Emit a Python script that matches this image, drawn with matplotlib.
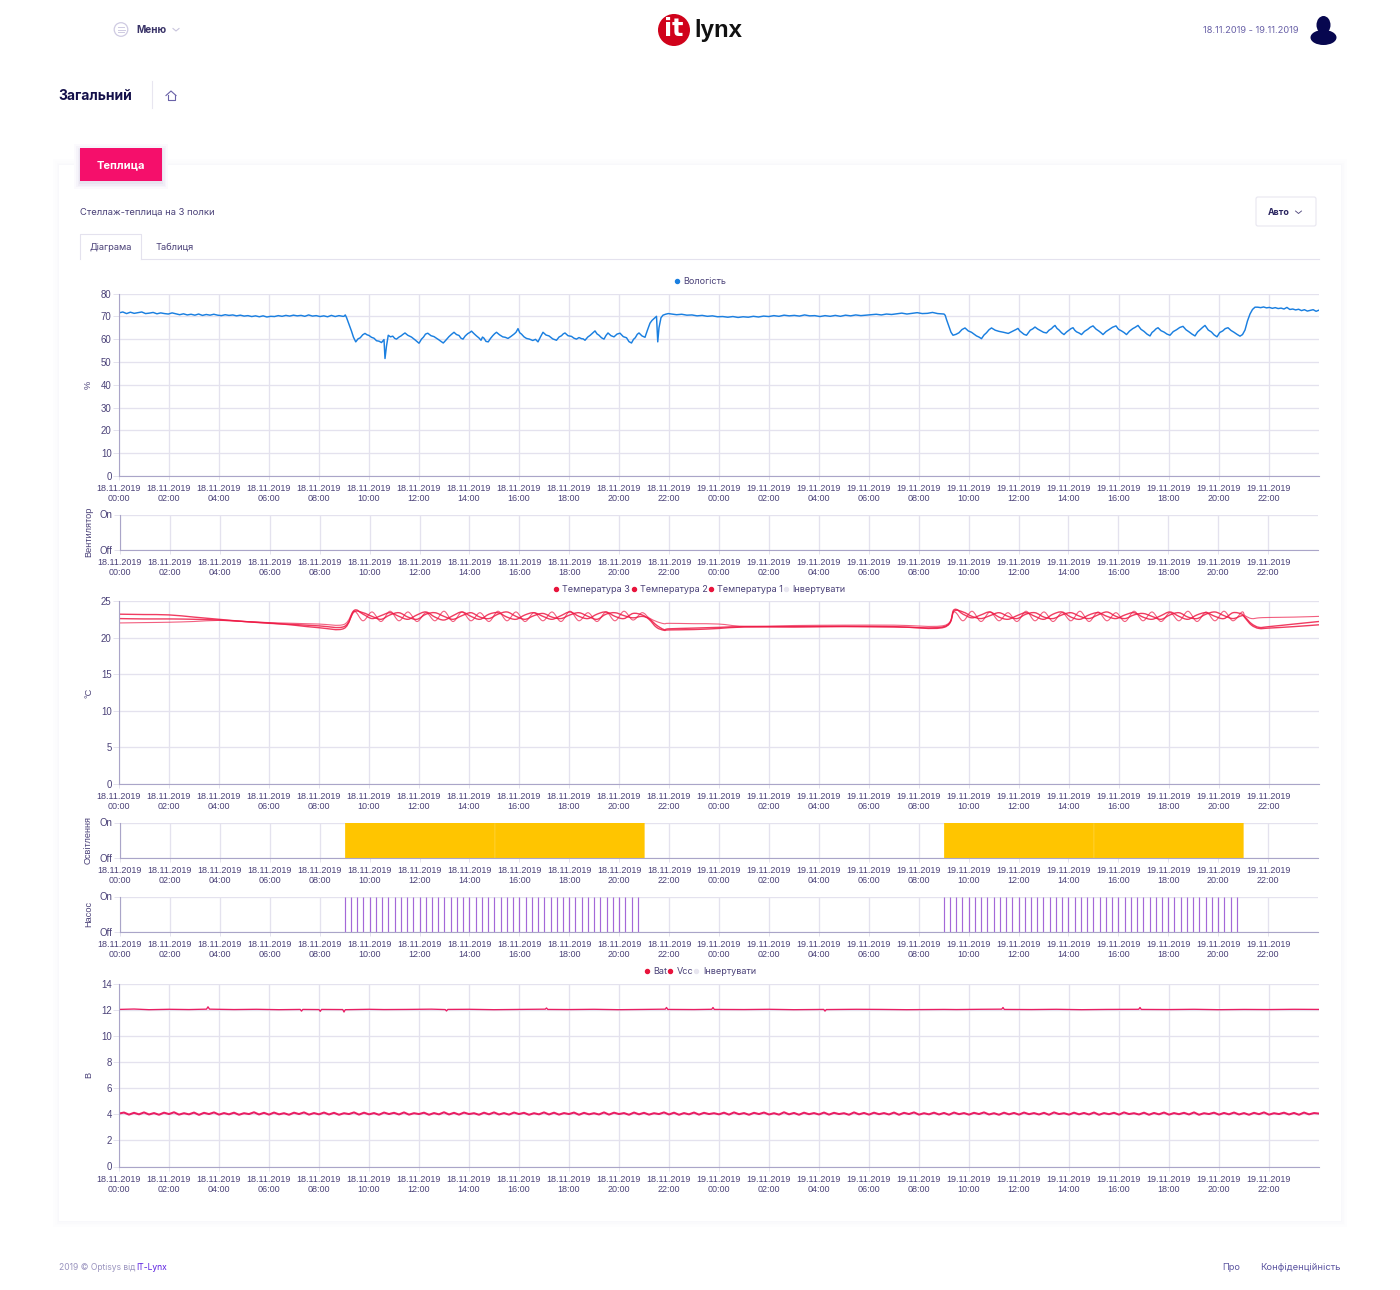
import numpy as np
import matplotlib
matplotlib.use('Agg')
import matplotlib.pyplot as plt
from matplotlib.lines import Line2D
from matplotlib.path import Path
from matplotlib.patches import Rectangle, Ellipse, Circle, FancyBboxPatch, PathPatch

W, H = 1400, 1290
UI_FONT = 'Inter'
TICK_FONT = 'Liberation Sans'
INK = '#4a4178'
GRID = '#e4e2ee'
AXIS = '#aaa5c8'

# tick labels, every 2 hours over the two days
tick_hours = [0, 2, 4, 6, 8, 10, 12, 14, 16, 18, 20, 22, 24, 26, 28, 30, 32, 34, 36, 38, 40, 42, 44, 46]
tick_labels = ['18.11.2019\n00:00', '18.11.2019\n02:00', '18.11.2019\n04:00', '18.11.2019\n06:00',
               '18.11.2019\n08:00', '18.11.2019\n10:00', '18.11.2019\n12:00', '18.11.2019\n14:00',
               '18.11.2019\n16:00', '18.11.2019\n18:00', '18.11.2019\n20:00', '18.11.2019\n22:00',
               '19.11.2019\n00:00', '19.11.2019\n02:00', '19.11.2019\n04:00', '19.11.2019\n06:00',
               '19.11.2019\n08:00', '19.11.2019\n10:00', '19.11.2019\n12:00', '19.11.2019\n14:00',
               '19.11.2019\n16:00', '19.11.2019\n18:00', '19.11.2019\n20:00', '19.11.2019\n22:00']

# humidity, night 1 (00:00 - 09:00)
hum_night1 = [71.5, 71.9, 71.2, 71.8, 71.3, 71.6, 71.9, 71.2, 71.4, 71.7, 71.1, 71.5, 71.2, 71.0, 71.5, 71.1,
              70.7, 71.1, 70.6, 70.9, 70.5, 71.0, 70.4, 70.8, 70.5, 70.9, 70.5, 70.3, 70.7, 70.4, 70.6, 70.2,
              70.5, 70.1, 70.3, 69.9, 70.2, 69.8, 70.2, 69.7, 70.0, 69.9, 70.3, 70.0, 70.4, 70.1, 70.5, 70.2,
              70.4, 70.0, 70.6, 70.1, 70.3, 69.9, 70.2, 69.8, 70.4, 69.9, 70.3, 70.0]
# humidity, day 1 (irregular knots)
hum_day1_t = [9.0, 9.05, 9.1, 9.2, 9.3, 9.38, 9.47, 9.56, 9.65, 9.75, 9.84, 9.92, 10.0, 10.1, 10.2, 10.3, 10.4, 10.5, 10.6, 10.64, 10.7, 10.77,
              10.86, 10.95, 11.03, 11.1, 11.2, 11.28, 11.36, 11.44, 11.55, 11.7, 11.85, 12.0, 12.1, 12.18, 12.26, 12.35, 12.48, 12.6, 12.78, 12.97, 13.08, 13.2, 13.3, 13.4,
              13.5, 13.6, 13.68, 13.76, 13.85, 13.95, 14.03, 14.1, 14.2, 14.3, 14.4, 14.48, 14.54, 14.6, 14.68, 14.77, 14.86, 14.95, 15.03, 15.1, 15.22, 15.35, 15.45, 15.56,
              15.68, 15.8, 15.88, 15.96, 16.03, 16.1, 16.2, 16.3, 16.42, 16.55, 16.66, 16.76, 16.86, 16.96, 17.08, 17.2, 17.35, 17.5, 17.6, 17.7, 17.77, 17.84, 17.96, 18.1,
              18.2, 18.3, 18.4, 18.5, 18.57, 18.64, 18.75, 18.85, 18.95, 19.04, 19.12, 19.2, 19.3, 19.4, 19.48, 19.56, 19.68, 19.8, 19.92, 20.04, 20.17, 20.3, 20.4, 20.5,
              20.58, 20.65, 20.73, 20.8, 20.92, 21.04, 21.14, 21.24, 21.32, 21.4, 21.5, 21.55, 21.6, 21.68, 21.76, 21.86, 21.97]
hum_day1_v = [70.0, 70.6, 69.5, 66.5, 63.5, 60.8, 58.8, 60.1, 60.6, 61.9, 62.5, 61.9, 61.6, 60.8, 60.4, 59.3, 59.1, 58.5, 59.8, 51.5, 57.0, 61.7,
              61.0, 61.3, 60.3, 60.0, 60.9, 61.4, 62.1, 62.7, 61.7, 60.9, 59.6, 58.2, 60.0, 60.9, 62.2, 62.6, 61.5, 61.1, 59.8, 58.3, 59.6, 61.1, 62.1, 63.0,
              62.0, 61.6, 60.4, 60.0, 61.4, 62.4, 62.9, 63.5, 62.4, 61.4, 60.5, 59.5, 60.9, 60.4, 59.0, 58.8, 60.3, 61.5, 62.4, 63.0, 61.9, 61.0, 60.8, 60.3,
              61.2, 62.2, 63.0, 64.6, 62.8, 62.2, 61.0, 60.3, 60.0, 59.4, 59.9, 58.8, 61.0, 63.0, 61.8, 61.4, 60.1, 59.5, 60.9, 61.5, 62.3, 62.7, 61.5, 61.2,
              60.4, 60.0, 60.7, 60.2, 60.1, 59.5, 60.9, 61.7, 62.7, 63.6, 62.3, 61.7, 60.6, 60.0, 61.6, 62.7, 61.5, 61.0, 62.2, 62.6, 61.1, 60.6, 58.9, 58.3,
              59.9, 60.6, 62.1, 62.7, 61.4, 60.8, 64.0, 67.0, 68.2, 69.0, 70.0, 58.8, 65.0, 69.4, 70.5, 70.9, 71.2]
# humidity, night 2 (22:00 - 09:00)
hum_night2 = [71.0, 70.7, 70.9, 70.5, 70.6, 70.2, 70.4, 70.0, 70.2, 69.8, 69.9, 69.6, 69.9, 69.5, 69.8, 69.6,
              70.0, 69.7, 70.1, 69.9, 70.3, 70.0, 70.5, 70.2, 70.4, 70.1, 70.6, 70.2, 70.3, 69.9, 70.3, 70.0,
              70.4, 70.0, 70.5, 70.2, 70.6, 70.3, 70.5, 70.7, 70.9, 70.6, 71.0, 70.8, 71.1, 71.4, 71.0, 71.3,
              71.6, 71.2, 71.3, 71.7, 71.2, 71.0]
# humidity, day 2 (irregular knots)
hum_day2_t = [33.0, 33.05, 33.1, 33.2, 33.28, 33.36, 33.48, 33.6, 33.72, 33.84, 33.97, 34.1, 34.2, 34.3, 34.4, 34.5, 34.6, 34.7, 34.8, 34.9, 35.05, 35.2, 35.38, 35.57,
              35.7, 35.8, 35.88, 35.96, 36.03, 36.1, 36.2, 36.3, 36.38, 36.45, 36.55, 36.64, 36.75, 36.85, 36.98, 37.1, 37.2, 37.3, 37.37, 37.44, 37.52, 37.6, 37.7, 37.8,
              37.9, 38.0, 38.08, 38.16, 38.23, 38.3, 38.4, 38.5, 38.62, 38.75, 38.85, 38.96, 39.08, 39.2, 39.28, 39.36, 39.48, 39.6, 39.74, 39.88, 39.98, 40.1, 40.2, 40.3,
              40.42, 40.55, 40.65, 40.76, 40.88, 41.0, 41.12, 41.24, 41.32, 41.4, 41.48, 41.56, 41.68, 41.8, 41.92, 42.04, 42.17, 42.3, 42.43, 42.56, 42.68, 42.8, 42.92, 43.04,
              43.14, 43.25, 43.35, 43.44, 43.57, 43.7, 43.8, 43.92, 44.03, 44.15, 44.25, 44.36, 44.48, 44.6, 44.72, 44.84, 44.94, 45.04, 45.14, 45.24, 45.34, 45.44]
hum_day2_v = [71.0, 70.4, 68.6, 65.5, 63.0, 61.7, 62.1, 62.8, 64.2, 64.9, 63.6, 63.0, 62.2, 61.4, 60.9, 60.2, 61.8, 62.8, 64.1, 64.9, 63.9, 63.4, 63.0, 62.5,
              63.2, 63.7, 64.2, 64.7, 63.6, 63.0, 62.1, 61.7, 62.9, 63.9, 64.5, 65.3, 64.4, 63.8, 63.0, 62.7, 63.9, 64.6, 65.4, 66.0, 64.7, 64.0, 62.8, 62.0,
              63.1, 63.9, 64.6, 65.0, 63.9, 63.2, 62.7, 62.0, 63.4, 64.3, 65.2, 65.8, 64.4, 63.5, 62.8, 62.0, 63.3, 64.2, 65.2, 65.8, 64.3, 63.6, 62.9, 62.0,
              63.5, 64.6, 65.2, 66.0, 64.3, 63.4, 62.2, 61.4, 62.9, 63.6, 64.5, 65.0, 63.7, 63.1, 62.2, 61.7, 63.3, 64.1, 65.1, 65.6, 64.1, 63.2, 62.2, 61.4,
              63.1, 64.2, 65.2, 66.0, 64.0, 63.1, 61.9, 61.0, 62.9, 63.6, 64.6, 65.0, 63.8, 63.0, 62.1, 61.3, 62.0, 64.0, 68.0, 71.0, 73.0, 74.0]
# humidity, evening 2 (45.5 - 48)
hum_end = [74.0, 73.8, 74.1, 73.7, 73.9, 73.5, 73.8, 73.4, 73.6, 73.2, 73.9, 73.0, 73.2, 72.8, 73.1, 72.5, 72.9, 72.3, 72.6, 72.9, 72.2, 72.7]

# temperature sample times
temp_night1_t = [0, 1, 2, 3, 4, 5, 6, 7, 8, 9]
temp_evening_t = [21.2, 21.5, 21.8, 22, 23, 24, 25, 27, 29, 31, 33]
temp_end_t = [45.04, 45.3, 45.6, 46, 47, 48]

temp1_night1 = [23.2, 23.15, 23.1, 22.8, 22.5, 22.2, 22.0, 21.7, 21.35, 21.25]
temp1_day1 = [23.7, 23.2, 22.6, 23.0, 23.4, 22.9, 22.5, 23.1, 23.5, 22.8, 22.4, 23.0, 23.5, 22.9, 22.5, 23.2, 23.4,
              22.8, 22.5, 23.1, 23.4, 22.9, 22.5, 23.0, 23.5, 22.9, 22.6, 23.2, 23.5, 22.9, 22.6, 23.3, 23.1]
temp1_evening = [22.5, 21.4, 21.0, 21.05, 21.1, 21.25, 21.45, 21.5, 21.55, 21.5, 21.4]
temp1_day2 = [23.8, 23.2, 22.7, 23.1, 23.5, 22.8, 22.5, 23.0, 23.4, 22.9, 22.5, 23.2, 23.5, 22.8, 22.5, 23.1, 23.4,
              22.9, 22.6, 23.1, 23.4, 22.8, 22.5, 23.0, 23.5, 22.9, 22.5, 23.1, 23.4, 22.9, 22.6, 23.4, 23.2]
temp1_end = [22.7, 21.7, 21.25, 21.3, 21.5, 21.75]

temp2_night1 = [22.6, 22.55, 22.55, 22.5, 22.4, 22.2, 21.95, 21.8, 21.6, 21.5]
temp2_day1 = [23.5, 23.4, 22.9, 22.5, 23.1, 23.4, 22.8, 22.5, 23.2, 23.4, 22.9, 22.5, 23.0, 23.4, 22.8, 22.6, 23.2,
              23.5, 22.9, 22.5, 23.0, 23.3, 22.8, 22.6, 23.1, 23.4, 22.9, 22.5, 23.2, 23.4, 23.0, 22.7, 22.9]
temp2_evening = [22.6, 21.7, 21.1, 21.2, 21.3, 21.4, 21.5, 21.45, 21.5, 21.45, 21.5]
temp2_day2 = [23.6, 23.5, 22.9, 22.6, 23.0, 23.4, 22.9, 22.6, 23.2, 23.4, 22.8, 22.6, 23.1, 23.4, 22.9, 22.6, 23.1,
              23.5, 22.9, 22.6, 23.1, 23.3, 22.9, 22.5, 23.1, 23.4, 22.8, 22.6, 23.2, 23.5, 23.0, 22.6, 23.0]
temp2_end = [22.8, 21.9, 21.4, 21.5, 21.85, 22.2]

temp3_night1 = [22.0, 22.05, 22.1, 22.2, 22.35, 22.2, 22.05, 21.95, 21.85, 21.8]
temp3_day1 = [23.6, 22.3, 23.5, 22.2, 23.6, 22.3, 23.5, 22.2, 23.4, 22.3, 23.6, 22.2, 23.5, 22.3, 23.4, 22.2, 23.6,
              22.3, 23.5, 22.2, 23.4, 22.3, 23.5, 22.2, 23.6, 22.3, 23.4, 22.2, 23.5, 22.3, 23.6, 22.4, 23.4]
temp3_evening = [22.7, 22.2, 21.9, 21.95, 21.9, 21.85, 21.55, 21.65, 21.7, 21.7, 21.65]
temp3_day2 = [23.5, 22.3, 23.6, 22.2, 23.5, 22.3, 23.4, 22.2, 23.6, 22.3, 23.5, 22.2, 23.4, 22.3, 23.6, 22.2, 23.5,
              22.3, 23.4, 22.2, 23.6, 22.3, 23.5, 22.2, 23.4, 22.3, 23.6, 22.2, 23.5, 22.3, 23.6, 22.3, 23.5]
temp3_end = [23.0, 22.6, 22.7, 22.75, 22.8, 22.9]

# lights: on / off hours
light_on = [9.0, 15.008, 33.0, 39.008]
light_off = [15.0, 21.0, 39.0, 45.0]

# pump switching hours
pump_day1 = [9.0, 9.25, 9.5, 9.75, 10.0, 10.25, 10.5, 10.75, 11.0, 11.25, 11.5, 11.75, 12.0, 12.25, 12.5, 12.75,
             13.0, 13.25, 13.5, 13.75, 14.0, 14.25, 14.5, 14.75, 15.0, 15.25, 15.5, 15.75, 16.0, 16.25, 16.5, 16.75,
             17.0, 17.25, 17.5, 17.75, 18.0, 18.25, 18.5, 18.75, 19.0, 19.25, 19.5, 19.75, 20.0, 20.25, 20.5, 20.75]
pump_day2 = [33.0, 33.25, 33.5, 33.75, 34.0, 34.25, 34.5, 34.75, 35.0, 35.25, 35.5, 35.75, 36.0, 36.25, 36.5, 36.75,
             37.0, 37.25, 37.5, 37.75, 38.0, 38.25, 38.5, 38.75, 39.0, 39.25, 39.5, 39.75, 40.0, 40.25, 40.5, 40.75,
             41.0, 41.25, 41.5, 41.75, 42.0, 42.25, 42.5, 42.75, 43.0, 43.25, 43.5, 43.75, 44.0, 44.25, 44.5, 44.75]

# battery and supply voltage
bat_t = [0, 0.6, 1.2, 2.0, 2.8, 3.5, 3.56, 3.62, 4.6, 5.5, 6.4, 7.25, 7.3, 7.35, 8.0, 8.05, 8.1, 8.95, 9.0, 9.05, 10.0, 10.6,
         11.5, 12.5, 13.05, 13.1, 13.15, 14.0, 15.0, 16.0, 17.05, 17.1, 17.15, 18.0, 19.0, 20.0, 21.0, 21.85, 21.9, 21.95, 23.0,
         23.71, 23.76, 23.81, 25.0, 26.0, 27.0, 28.19, 28.24, 28.29, 29.5, 30.5, 31.5, 33.0, 33.5, 34.5, 35.31, 35.36, 35.41,
         36.5, 37.5, 38.5, 39.5, 40.79, 40.84, 40.89, 42.0, 43.0, 44.0, 45.0, 46.0, 47.0, 48.0]
bat_v = [12.05, 12.08, 12.03, 12.06, 12.04, 12.07, 12.25, 12.07, 12.04, 12.06, 12.03, 12.05, 11.92, 12.05, 12.04, 11.9, 12.05, 12.04, 11.85, 12.03, 12.06, 12.04,
         12.05, 12.07, 12.04, 11.93, 12.05, 12.06, 12.03, 12.05, 12.07, 12.16, 12.05, 12.04, 12.06, 12.03, 12.05, 12.07, 12.2, 12.05, 12.04,
         12.06, 12.2, 12.05, 12.04, 12.06, 12.03, 12.05, 11.92, 12.04, 12.06, 12.05, 12.03, 12.05, 12.04, 12.06, 12.07, 12.2, 12.05,
         12.04, 12.06, 12.03, 12.05, 12.06, 12.2, 12.05, 12.04, 12.06, 12.03, 12.05, 12.04, 12.06, 12.05]
vcc_part1 = [4.06, 4.14, 3.98, 4.12, 4.0, 4.15, 3.99, 4.1, 3.97, 4.13, 4.02, 4.16, 3.98, 4.09, 4.0, 4.14, 3.96, 4.12, 4.02, 4.15,
             3.98, 4.1, 4.0, 4.13, 3.97, 4.09, 4.02, 4.16, 3.99, 4.12, 3.98, 4.14, 4.0, 4.09, 3.97, 4.13, 4.02, 4.15, 3.98, 4.1,
             4.0, 4.14, 3.99, 4.12, 3.97, 4.09, 4.02, 4.15, 3.98, 4.13, 4.0, 4.1, 3.97, 4.14, 4.02, 4.12, 3.99, 4.15, 3.98, 4.09,
             4.02, 4.13, 3.97, 4.1, 4.0, 4.16, 3.99, 4.12, 3.98, 4.14, 4.02, 4.09, 3.97, 4.13, 4.0, 4.15, 3.99, 4.1, 3.98, 4.14,
             4.02, 4.12, 3.97, 4.09, 4.0, 4.15, 3.99, 4.13, 3.98, 4.1, 4.02, 4.14, 3.97, 4.12, 4.0, 4.09, 3.99, 4.15, 3.98, 4.13,
             4.02, 4.1, 3.97, 4.14, 4.0, 4.12, 3.98, 4.09, 4.02, 4.15, 3.99, 4.13, 3.97, 4.1, 4.0, 4.14, 3.98, 4.12, 4.02, 4.09]
vcc_part2 = [4.0, 4.13, 3.98, 4.15, 4.01, 4.1, 3.97, 4.12, 4.02, 4.14, 3.99, 4.09, 3.98, 4.16, 4.0, 4.11, 3.97, 4.13, 4.01, 4.1,
             3.99, 4.14, 3.98, 4.12, 4.02, 4.09, 3.97, 4.15, 4.0, 4.11, 3.98, 4.13, 4.01, 4.1, 3.99, 4.14, 3.97, 4.12, 4.02, 4.15,
             3.98, 4.09, 4.0, 4.13, 3.99, 4.11, 3.97, 4.14, 4.01, 4.1, 3.98, 4.12, 4.02, 4.15, 3.99, 4.09, 3.97, 4.13, 4.0, 4.11,
             3.98, 4.14, 4.01, 4.1, 3.99, 4.12, 3.97, 4.15, 4.02, 4.09, 3.98, 4.13, 4.0, 4.11, 3.99, 4.14, 3.97, 4.1, 4.01, 4.12,
             3.98, 4.15, 4.02, 4.09, 3.99, 4.13, 3.97, 4.11, 4.0, 4.14, 3.98, 4.1, 4.01, 4.12, 3.99, 4.15, 3.97, 4.09, 4.02, 4.13,
             3.98, 4.11, 4.0, 4.14, 3.99, 4.1, 3.97, 4.12, 4.01, 4.15, 3.98, 4.09, 4.02, 4.13, 3.99, 4.11, 3.97, 4.14, 4.0, 4.1, 4.06]

hum_t = np.concatenate([np.linspace(0, 8.95, len(hum_night1)), hum_day1_t, np.linspace(22.1, 32.95, len(hum_night2)),
                        hum_day2_t, np.linspace(45.55, 48, len(hum_end))])
hum_v = hum_night1 + hum_day1_v + hum_night2 + hum_day2_v + hum_end

temp_t = np.concatenate([temp_night1_t, np.linspace(9.4, 20.92, len(temp1_day1)), temp_evening_t,
                         np.linspace(33.4, 44.92, len(temp1_day2)), temp_end_t])
temp1 = temp1_night1 + temp1_day1 + temp1_evening + temp1_day2 + temp1_end
temp2 = temp2_night1 + temp2_day1 + temp2_evening + temp2_day2 + temp2_end
temp3 = temp3_night1 + temp3_day1 + temp3_evening + temp3_day2 + temp3_end

vcc_v = vcc_part1 + vcc_part2
vcc_t = np.linspace(0, 48, len(vcc_v))


def px_axes(left, top, right, bottom):
    return fig.add_axes([left / W, 1 - bottom / H, (right - left) / W, (bottom - top) / H])


def style_axes(ax, ylabel, ymax, yticks, ylabels=None, label_x=-26):
    ax.set_xlim(0, 48)
    ax.set_ylim(0, ymax)
    ax.patch.set_alpha(0)
    ax.set_xticks(tick_hours)
    ax.set_xticklabels(tick_labels, fontsize=6.5, fontfamily=TICK_FONT, color=INK, linespacing=1.15)
    ax.set_yticks(yticks)
    if ylabels:
        ax.set_yticklabels(ylabels)
    for lab in ax.get_yticklabels():
        lab.set_fontsize(6.9)
        lab.set_fontfamily(TICK_FONT)
        lab.set_color(INK)
    ax.tick_params(axis='x', length=3, width=0.7, color=GRID, pad=2.8)
    ax.tick_params(axis='y', length=4, width=0.7, color=GRID, pad=1.3)
    ax.grid(True, color=GRID, linewidth=0.95)
    ax.set_axisbelow(True)
    for side in ['top', 'right']:
        ax.spines[side].set_visible(False)
    ax.spines['left'].set_color(AXIS)
    ax.spines['bottom'].set_color(AXIS)
    ax.spines['left'].set_linewidth(0.8)
    ax.spines['bottom'].set_linewidth(0.8)
    ax.set_ylabel(ylabel, fontsize=6.6, fontfamily=TICK_FONT, color=INK)
    ax.yaxis.set_label_coords(label_x / ax.get_position().width / W, 0.5)


def legend_row(ax, names, colors, x_center, y_px):
    handles = [Line2D([], [], linestyle='', marker='o', markersize=2.9, color=c, label=n) for n, c in zip(names, colors)]
    ax.legend(handles=handles, ncol=len(names), loc='center', bbox_to_anchor=(x_center / W, 1 - y_px / H),
              bbox_transform=fig.transFigure, frameon=False, handlelength=0.6, handletextpad=0.4, columnspacing=0.05,
              prop={'family': UI_FONT, 'size': 6.5}, labelcolor=INK, borderpad=0, borderaxespad=0)


def smooth_line(ax, xs, ys, color, lw, alpha, k=0.17):
    # draw the line through the samples with bezier corners, like the web chart does
    pts = np.column_stack([xs, ys])
    verts = [pts[0]]
    codes = [Path.MOVETO]
    for i in range(len(pts) - 1):
        before = pts[max(i - 1, 0)]
        after = pts[min(i + 2, len(pts) - 1)]
        verts += [pts[i] + (pts[i + 1] - before) * k, pts[i + 1] - (after - pts[i]) * k, pts[i + 1]]
        codes += [Path.CURVE4, Path.CURVE4, Path.CURVE4]
    ax.add_patch(PathPatch(Path(verts, codes), fc='none', ec=color, lw=lw, alpha=alpha))


fig = plt.figure(figsize=(W / 100, H / 100), dpi=100, facecolor='white')

# page furniture in pixel coordinates
page = fig.add_axes([0, 0, 1, 1])
page.set_xlim(0, W)
page.set_ylim(H, 0)
page.axis('off')

for grow, shade in zip([6, 4, 2.5, 1], ['#fdfdfe', '#fcfcfd', '#fafafc', '#f8f8fb']):
    page.add_patch(Rectangle((59 - grow, 165 - grow), 1282 + 2 * grow, 1056 + 2 * grow, fc=shade, ec='none'))
page.add_patch(Rectangle((59, 165), 1282, 1056, fc='white', ec='none'))

for grow, shade in zip([6, 4, 2.5, 1], ['#fbfafd', '#f6f4fa', '#f0edf6', '#e8e4f0']):
    page.add_patch(Rectangle((80 - grow, 148 - grow + 2), 82 + 2 * grow, 33 + 2 * grow, fc=shade, ec='none'))
page.add_patch(Rectangle((80, 148), 82, 33, fc='#f50f6b', ec='none'))
page.text(121, 165, 'Теплица', fontsize=8, fontweight='bold', color='white', ha='center', va='center', fontfamily=UI_FONT)

page.text(80, 212, 'Стеллаж-теплица на 3 полки', fontsize=6.8, color=INK, va='center', fontfamily=UI_FONT)
page.plot([80, 80, 141, 141], [259, 234, 234, 259], color='#e4e2ee', lw=0.8)
page.plot([141, 1319], [259, 259], color='#e4e2ee', lw=0.8)
page.text(110.5, 247, 'Діаграма', fontsize=6.7, color=INK, ha='center', va='center', fontfamily=UI_FONT)
page.text(175, 247, 'Таблиця', fontsize=6.7, color=INK, ha='center', va='center', fontfamily=UI_FONT)

page.add_patch(FancyBboxPatch((1256, 197), 60, 29, boxstyle='round,pad=0,rounding_size=2', fc='white', ec='#e8e6f0', lw=0.8))
page.text(1279, 212.5, 'Авто', fontsize=6.4, fontweight='bold', color='#2a2560', ha='center', va='center', fontfamily=UI_FONT)
page.plot([1295.5, 1298.5, 1301.5], [211, 213.5, 211], color='#4a4178', lw=0.6)

# top bar
page.add_patch(Circle((121, 29.5), 6.8, fc='none', ec='#cfcbe2', lw=0.9))
for yy, half in [(27, 3), (29.5, 3.5), (32, 3)]:
    page.plot([121 - half, 121 + half], [yy, yy], color='#cfcbe2', lw=0.7)
page.text(136, 30, 'Меню', fontsize=7.2, fontweight='bold', color='#3a3468', va='center', fontfamily=UI_FONT)
page.plot([173, 176, 179], [28.5, 31, 28.5], color='#c8c4dc', lw=0.8)

page.add_patch(Ellipse((674, 30), 32, 32, fc='#d0021b', ec='none'))
page.text(674, 29, 'it', fontsize=17, fontweight='bold', color='white', ha='center', va='center', fontfamily='DejaVu Sans')
page.text(718, 30.5, 'lynx', fontsize=17.3, fontweight='bold', color='#111111', ha='center', va='center', fontfamily='Liberation Sans')

page.text(1251, 30.5, '18.11.2019 - 19.11.2019', fontsize=6.7, color='#6a62a8', ha='center', va='center', fontfamily=UI_FONT)
page.add_patch(Ellipse((1323.5, 25), 14, 18, fc='#07074f', ec='none'))
page.add_patch(Ellipse((1323.5, 37.5), 26, 15, fc='#07074f', ec='none'))

page.text(58.5, 95.5, 'Загальний', fontsize=10, fontweight='bold', color='#14104a', va='center', fontfamily=UI_FONT)
page.plot([151.5, 151.5], [81, 108], color='#e8e6f0', lw=0.8)
page.plot([166, 171, 176], [95.5, 91, 95.5], color='#6a62a8', lw=0.8)
page.plot([167.5, 167.5, 174.5, 174.5], [95, 100, 100, 95], color='#6a62a8', lw=0.8)

# footer
page.text(59, 1268, '2019 © Optisys від', fontsize=6.1, color='#9a94bf', va='center', fontfamily=UI_FONT)
page.text(136, 1268, 'IT-Lynx', fontsize=6.1, color='#5a1ee0', va='center', fontfamily=UI_FONT)
page.text(1231, 1268, 'Про', fontsize=6.6, color='#5c55a0', ha='center', va='center', fontfamily=UI_FONT)
page.text(1341, 1268, 'Конфіденційність', fontsize=6.8, color='#5c55a0', ha='right', va='center', fontfamily=UI_FONT)

# humidity
ax_hum = px_axes(119, 293.5, 1319, 476)
ax_hum.plot(hum_t, hum_v, color='#1a7fe0', lw=1.05)
style_axes(ax_hum, '%', 80, [0, 10, 20, 30, 40, 50, 60, 70, 80])
legend_row(ax_hum, ['Вологість'], ['#1a7fe0'], 700, 281.5)

# fan
ax_fan = px_axes(120, 514.5, 1318, 549.5)
style_axes(ax_fan, 'Вентилятор', 1, [0, 1], ['Off', 'On'], label_x=-27)

# temperature
ax_temp = px_axes(119, 601, 1319, 784)
smooth_line(ax_temp, temp_t, temp3, '#ee2a55', 0.8, 0.75)
smooth_line(ax_temp, temp_t, temp2, '#ee1a45', 1.0, 0.85)
smooth_line(ax_temp, temp_t, temp1, '#ee1a45', 1.0, 0.85)
style_axes(ax_temp, '°C', 25, [0, 5, 10, 15, 20, 25])
legend_row(ax_temp, ['Температура 3', 'Температура 2', 'Температура 1', 'Інвертувати'],
           ['#e8143c', '#e8143c', '#e8143c', '#e8e6f0'], 699.5, 590)

# lights
ax_light = px_axes(120, 822.5, 1318, 857.5)
for start, stop in zip(light_on, light_off):
    ax_light.fill_between([start, stop], [0, 0], [1, 1], color='#ffc500', lw=0, zorder=2, snap=False)
style_axes(ax_light, 'Освітлення', 1, [0, 1], ['Off', 'On'], label_x=-27)

# pump
ax_pump = px_axes(120, 896.5, 1318, 931.5)
ax_pump.vlines(pump_day1 + pump_day2, 0, 1, color='#a468d8', lw=0.85, zorder=2)
style_axes(ax_pump, 'Насос', 1, [0, 1], ['Off', 'On'], label_x=-27)

# voltages
ax_volt = px_axes(119, 984, 1319, 1166.5)
ax_volt.plot(bat_t, bat_v, color='#e91e63', lw=0.95)
ax_volt.plot(vcc_t, vcc_v, color='#e91e63', lw=1.45)
style_axes(ax_volt, 'В', 14, [0, 2, 4, 6, 8, 10, 12, 14])
legend_row(ax_volt, ['Bat', 'Vcc', 'Інвертувати'], ['#e8143c', '#e8143c', '#e8e6f0'], 700, 972)

fig.savefig('out.png', dpi=100)
